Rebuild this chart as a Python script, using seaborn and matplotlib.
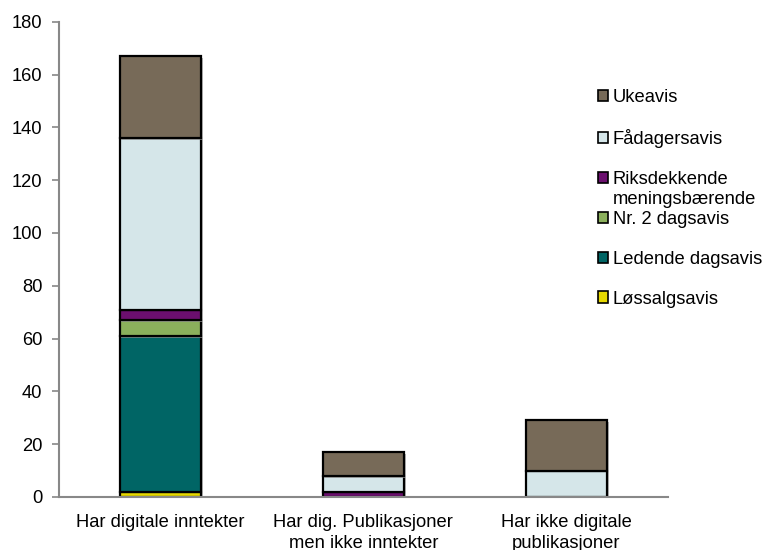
import numpy as np
import seaborn as sns
import matplotlib.pyplot as plt
import matplotlib.patheffects as pe

# --- data ---
categories = ["Har digitale inntekter",
              "Har dig. Publikasjoner\nmen ikke inntekter",
              "Har ikke digitale\npublikasjoner"]
series_names = ["Løssalgsavis", "Ledende dagsavis", "Nr. 2 dagsavis",
                "Riksdekkende meningsbærende", "Fådagersavis", "Ukeavis"]
losssalg = [2, 0, 0]
ledende = [59, 0, 0]
nr2 = [6, 0, 0]
riks = [4, 2, 0]
faadager = [65, 6, 10]
ukeavis = [31, 9, 19]
colors = ["#E6D800", "#006565", "#8BB05C", "#6B0F6E", "#D5E6E9", "#776A58"]

sns.set_style("white")
plt.rcParams["font.family"] = ["Liberation Sans", "DejaVu Sans"]
plt.rcParams["font.size"] = 13.2
plt.rcParams["text.color"] = "black"
plt.rcParams["xtick.color"] = "black"
plt.rcParams["ytick.color"] = "black"

fig = plt.figure(figsize=(7.65, 5.5), dpi=100)
ax = fig.add_axes([0.077, 0.0964, 0.796, 0.864])

values = [losssalg, ledende, nr2, riks, faadager, ukeavis]
bottom = np.zeros(len(categories))
shadow = [pe.SimplePatchShadow(offset=(1.2, -1.2), shadow_rgbFace="#9a9a9a", alpha=0.7),
          pe.Normal()]
handles = []
for name, vals, col in zip(series_names, values, colors):
    n_before = len(ax.patches)
    sns.barplot(x=categories, y=vals, order=categories, bottom=bottom, color=col,
                saturation=1, width=0.4, edgecolor="black", linewidth=1.6, ax=ax)
    for p in ax.patches[n_before:]:
        p.set_path_effects(shadow)
    bottom = bottom + np.array(vals)
    handles.append(plt.Rectangle((0, 0), 1, 1, facecolor=col, edgecolor="black", linewidth=1.2))

ax.set_xlim(-0.5, 2.5)
ax.set_ylim(0, 180)
ax.set_yticks(range(0, 181, 20))
ax.set_xticks(range(len(categories)))
ax.set_xticklabels(categories, linespacing=1.3)
ax.set_xticks([-0.5, 0.5, 1.5, 2.5], minor=True)
ax.tick_params(axis="x", which="major", length=0, pad=12, labelsize=13.2)
ax.tick_params(axis="x", which="minor", length=5, width=1.2, color="#888888", direction="out")
ax.tick_params(axis="y", length=5, width=1.2, color="#888888", labelcolor="black",
               direction="out", pad=7, left=True, labelsize=13.2)
for s in ["top", "right"]:
    ax.spines[s].set_visible(False)
for s in ["left", "bottom"]:
    ax.spines[s].set_color("#888888")
    ax.spines[s].set_linewidth(1.5)
ax.set_xlabel("")
ax.set_ylabel("")

labels = ["Løssalgsavis", "Ledende dagsavis", "Nr. 2 dagsavis",
          "Riksdekkende", "Fådagersavis", "Ukeavis"]
leg = fig.legend(handles[::-1], labels[::-1], loc="upper left",
                 bbox_to_anchor=(0.770, 0.855), frameon=False, borderpad=0,
                 handlelength=0.55, handleheight=0.55, handletextpad=0.25,
                 labelspacing=1.25, fontsize=13.2)
riks_text = leg.get_texts()[2]
fig.canvas.draw()
ax.annotate("meningsbærende", xy=(0, 0), xycoords=riks_text,
            xytext=(0, -2), textcoords="offset points",
            ha="left", va="top", fontsize=13.2, annotation_clip=False)

plt.savefig("out.png", dpi=100)
